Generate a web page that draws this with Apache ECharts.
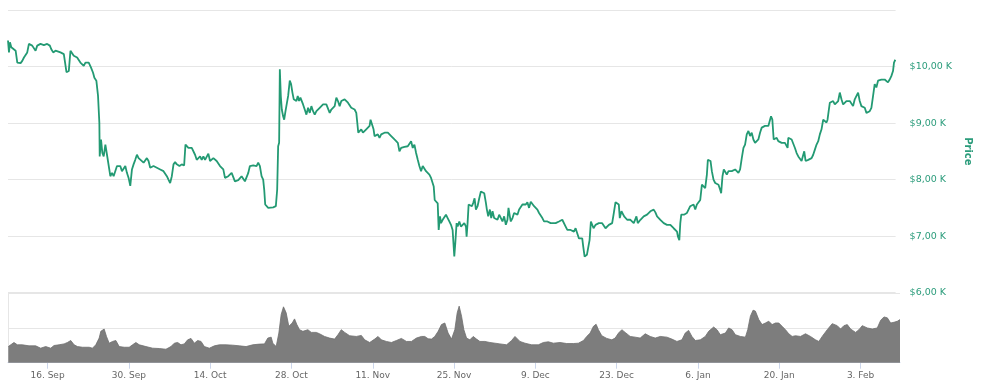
<!DOCTYPE html>
<html>
<head>
<meta charset="utf-8">
<script src="https://cdn.jsdelivr.net/npm/echarts@6/dist/echarts.min.js"></script>
<style>
html,body{margin:0;padding:0;background:#fff;}
#chart{width:981px;height:388px;}
</style>
</head>
<body>
<div id="chart"></div>
<script>
// Start of the series (UTC); all times below are days since this date
const startDate = '2019-09-09';

// x-axis tick labels
const tickDates = ['2019-09-16','2019-09-30','2019-10-14','2019-10-28','2019-11-11','2019-11-25','2019-12-09','2019-12-23','2020-01-06','2020-01-20','2020-02-03'];
const monthNames = ['Jan','Feb','Mar','Apr','May','Jun','Jul','Aug','Sep','Oct','Nov','Dec'];

// price axis ticks (USD)
const priceTicks = [6000, 7000, 8000, 9000, 10000, 11000];

// Price series: [day offset, USD]
const priceSeries = [
[0.19,10460],[0.36,10250],[0.53,10430],[0.76,10340],[1.10,10370],[1.51,10280],[1.80,10070],[2.08,10100],[2.37,10060],[2.66,10100],[2.95,10160],[3.23,10130],[3.52,10250],[3.81,10400],[4.10,10430],[4.38,10370],[4.67,10340],[4.96,10280],[5.25,10370],[5.53,10380],[5.82,10400],[6.11,10370],[6.40,10380],[6.97,10400],[7.43,10370],[7.66,10310],[8.01,10250],[8.41,10280],[8.70,10250],[9.27,10250],[9.85,10220],[10.13,10190],[10.31,9900],[10.71,9920],[10.88,10130],[11.00,10280],[11.28,10250],[11.57,10190],[12.15,10160],[12.72,10070],[13.30,10010],[13.59,10070],[14.16,10070],[14.56,9980],[14.91,9890],[15.14,9800],[15.48,9750],[15.77,9480],[16.00,9000],[16.06,8410],[16.29,8710],[16.52,8470],[16.75,8410],[17.04,8620],[17.32,8440],[17.61,8470],[17.90,8060],[18.19,8120],[18.47,8060],[18.76,8090],[19.05,8240],[19.34,8270],[19.62,8240],[19.91,8150],[20.20,8180],[20.49,8240],[20.77,8120],[21.06,8030],[21.35,7890],[21.64,8180],[21.92,8270],[22.21,8350],[22.50,8440],[22.79,8380],[23.07,8350],[23.65,8300],[24.22,8380],[24.51,8330],[24.80,8210],[25.37,8240],[25.95,8210],
[26.53,8180],[27.10,8150],[27.39,8120],[27.68,8060],[27.96,8000],[28.25,7940],[28.54,8060],[28.83,8270],[29.11,8310],[29.40,8270],[29.86,8240],[30.26,8270],[30.67,8250],[30.90,8620],[31.13,8590],[31.41,8560],[31.70,8590],[31.99,8560],[32.28,8590],[32.56,8440],[32.85,8350],[33.14,8380],[33.43,8410],[33.71,8350],[34.00,8410],[34.29,8350],[34.58,8380],[34.86,8460],[35.15,8330],[35.44,8350],[35.73,8380],[36.01,8350],[36.30,8330],[36.59,8330],[36.88,8240],[37.16,8210],[37.45,8180],[37.74,8030],[38.03,8010],[38.31,8060],[38.60,8090],[38.89,8120],[39.18,8120],[39.46,7970],[39.75,7970],[40.04,7990],[40.33,7970],[40.61,8060],[40.90,8030],[41.19,7970],[41.48,8000],[41.77,8120],[42.05,8240],[42.34,8270],[42.63,8250],[42.92,8270],[43.20,8240],[43.49,8300],[43.78,8240],[44.07,8060],[44.35,8000],[44.53,7820],[44.70,7560],[44.93,7530],[45.22,7500],[45.50,7500],[46.08,7510],[46.54,7530],[46.77,7820],[46.94,8590],[47.11,8650],[47.23,9950],[47.40,9480],[47.57,9240],[47.80,9120],[47.98,9060],[48.21,9210],[48.38,9240],[48.67,9480],[48.95,9750],[49.18,9690],[49.41,9540],[49.64,9420],[49.87,9450],[50.10,9390],[50.33,9480],[50.56,9390],[50.79,9450],[51.02,9420],[51.25,9330],[51.54,9240],[51.83,9150],
[52.12,9270],[52.41,9180],[52.69,9300],[52.98,9210],[53.27,9150],[53.56,9210],[54.13,9270],[54.42,9300],[54.71,9330],[54.99,9360],[55.28,9330],[55.57,9300],[55.86,9180],[56.14,9240],[56.43,9240],[56.72,9300],[57.01,9450],[57.29,9390],[57.58,9300],[57.87,9390],[58.16,9360],[58.44,9420],[58.73,9390],[59.02,9360],[59.31,9330],[59.59,9270],[59.88,9240],[60.17,9240],[60.46,9180],[60.63,9010],[60.80,8830],[61.03,8860],[61.32,8890],[61.61,8830],[61.89,8860],[62.18,8890],[62.47,8860],[62.76,8950],[62.93,9060],[63.22,9080],[63.45,8890],[63.62,8770],[63.91,8770],[64.19,8800],[64.48,8740],[64.77,8800],[65.06,8780],[65.35,8830],[65.63,8820],[65.92,8830],[66.21,8820],[66.50,8770],[66.78,8740],[67.07,8710],[67.36,8680],[67.65,8650],[67.93,8500],[68.22,8560],[68.51,8560],[68.80,8580],[69.08,8560],[69.37,8590],[69.66,8620],[69.95,8680],[70.23,8560],[70.52,8620],[70.81,8470],[71.10,8350],[71.38,8240],[71.67,8150],[71.96,8240],[72.25,8210],[72.53,8150],[72.82,8180],[73.11,8090],[73.40,8030],[73.68,8060],[73.86,7880],[74.03,7640],[74.26,7670],[74.55,7580],[74.72,7110],[74.95,7350],[75.12,7230],[75.41,7290],[75.70,7260],[75.98,7380],[76.27,7320],[76.56,7260],[76.85,7200],[77.13,7110],[77.42,6640],[77.59,6870],[77.82,7230],
[78.00,7170],[78.29,7260],[78.57,7170],[78.86,7200],[79.15,7230],[79.44,7170],[79.55,6990],[79.72,7230],[79.90,7560],[80.13,7590],[80.47,7530],[80.70,7590],[80.93,7670],[81.16,7470],[81.45,7530],[81.74,7670],[82.02,7790],[82.31,7820],[82.60,7760],[82.89,7590],[83.06,7470],[83.29,7350],[83.58,7470],[83.81,7320],[84.04,7440],[84.32,7320],[84.61,7350],[84.90,7290],[85.19,7380],[85.47,7350],[85.76,7260],[86.05,7350],[86.34,7200],[86.62,7290],[86.80,7500],[87.03,7350],[87.20,7260],[87.49,7320],[87.77,7410],[88.06,7440],[88.35,7380],[88.64,7470],[88.92,7440],[89.21,7560],[89.50,7590],[89.79,7560],[90.07,7600],[90.36,7500],[90.65,7610],[90.94,7590],[91.23,7530],[91.51,7560],[91.80,7470],[92.09,7410],[92.38,7380],[92.66,7320],[92.95,7260],[93.24,7290],[93.53,7260],[93.81,7290],[94.10,7230],[94.39,7200],[94.96,7230],[95.54,7260],[96.11,7290],[96.40,7260],[96.69,7170],[96.98,7110],[97.26,7140],[97.55,7110],[97.84,7140],[98.13,7080],[98.41,7140],[98.70,7110],[98.99,6960],[99.28,6930],[99.56,6960],[99.74,6810],[99.97,6640],[100.14,6610],[100.37,6670],[100.60,6700],[100.83,6930],[101.06,7260],[101.29,7290],[101.52,7140],[101.86,7200],[102.15,7170],[102.44,7230],[102.73,7200],[103.01,7230],[103.30,7200],[103.59,7140],
[103.88,7170],[104.17,7200],[104.45,7200],[104.74,7230],[105.03,7410],[105.32,7600],[105.60,7590],[105.89,7560],[106.06,7320],[106.35,7440],[106.58,7470],[106.81,7350],[107.04,7320],[107.33,7290],[107.62,7260],[107.90,7290],[108.19,7260],[108.48,7230],[108.77,7260],[108.94,7350],[109.17,7230],[109.34,7260],[109.63,7290],[109.92,7320],[110.20,7350],[110.49,7380],[110.78,7380],[111.07,7410],[111.35,7440],[111.64,7470],[111.93,7470],[112.22,7420],[112.51,7350],[112.79,7320],[113.08,7290],[113.37,7260],[113.66,7230],[113.94,7230],[114.23,7200],[114.52,7230],[114.81,7200],[115.09,7170],[115.38,7140],[115.67,7110],[115.96,7080],[116.13,6990],[116.36,6930],[116.53,7230],[116.70,7380],[116.93,7350],[117.16,7380],[117.39,7350],[117.68,7410],[117.97,7440],[118.25,7530],[118.54,7500],[118.83,7560],[119.12,7470],[119.40,7560],[119.69,7590],[119.98,7640],[120.27,7910],[120.55,7940],[120.84,7850],[121.13,8090],[121.30,8350],[121.53,8380],[121.76,8330],[121.99,8150],[122.28,8000],[122.57,7940],[122.85,7970],[123.14,7910],[123.43,7820],[123.60,7760],[123.83,8060],[124.06,8180],[124.29,8210],[124.58,8090],[124.87,8150],[125.16,8120],[125.44,8150],[125.73,8180],[126.02,8180],[126.31,8150],[126.59,8120],[126.88,8180],[127.17,8380],[127.46,8560],[127.74,8620],[128.03,8800],[128.32,8860],[128.61,8770],[128.89,8830],[129.18,8710],[129.47,8650],
[129.76,8680],[130.04,8710],[130.33,8830],[130.62,8920],[130.91,8890],[131.19,8950],[131.48,8920],[131.77,8950],[132.06,8980],[132.23,9120],[132.46,9060],[132.69,8710],[132.92,8680],[133.21,8740],[133.49,8680],[133.78,8680],[134.07,8650],[134.36,8680],[134.64,8650],[134.93,8680],[135.10,8560],[135.22,8740],[135.51,8740],[135.80,8710],[136.08,8680],[136.37,8560],[136.66,8470],[136.95,8410],[137.23,8380],[137.52,8330],[137.81,8440],[137.98,8500],[138.21,8330],[138.38,8350],[138.67,8350],[138.96,8380],[139.25,8380],[139.53,8440],[139.82,8530],[140.11,8620],[140.40,8680],[140.68,8800],[140.97,8890],[141.26,9060],[141.55,9090],[141.83,9010],[142.01,9060],[142.24,9240],[142.41,9360],[142.70,9330],[142.98,9390],[143.27,9330],[143.56,9360],[143.85,9390],[144.13,9540],[144.42,9420],[144.71,9330],[145.00,9300],[145.28,9390],[145.57,9420],[145.86,9390],[146.15,9360],[146.43,9300],[146.72,9420],[147.01,9450],[147.30,9540],[147.58,9390],[147.87,9300],[148.16,9270],[148.45,9270],[148.74,9180],[149.02,9150],[149.31,9210],[149.60,9270],[149.89,9480],[150.17,9690],[150.46,9630],[150.75,9750],[151.04,9770],[151.32,9770],[151.61,9800],[151.90,9770],[152.19,9800],[152.47,9720],[152.76,9770],[153.05,9830],[153.34,9920],[153.51,10070],[153.74,10120]
];

// Volume series: [day offset, billion USD]
const volumeSeries = [
[0.24,13.9],[1.22,17.4],[1.80,15.4],[2.66,15.4],[3.81,14.5],[4.96,14.5],[5.82,12.5],[6.68,13.9],[7.55,12.5],[8.12,14.8],[8.98,15.4],[9.85,16.2],[10.42,17.4],[11.00,19.1],[11.57,15.4],[12.15,13.9],[13.01,13.3],[14.16,13.3],[14.73,12.5],[15.31,15.4],[15.89,21.2],[16.17,27.0],[16.75,29.0],[17.15,22.6],[17.61,16.8],[18.19,18.3],[18.76,19.1],[19.34,13.9],[20.20,13.3],[21.06,13.3],[21.64,15.4],[22.21,17.4],[22.79,15.4],[23.94,13.9],[25.09,12.5],[26.24,12.2],[27.39,11.6],[28.25,13.9],[28.83,16.8],[29.40,17.4],[29.98,15.4],[30.55,16.2],[31.13,19.7],[31.70,20.9],[32.28,16.8],[32.85,19.1],[33.43,18.3],[34.00,13.9],[34.86,12.5],[35.73,14.5],[36.59,15.4],[37.74,15.4],[38.89,15.1],[40.04,14.5],[41.19,13.9],[42.34,15.4],[43.49,16.0],[44.35,16.2],[44.93,21.2],[45.51,22.0],[45.79,16.8],[46.37,13.9],[46.83,25.5],[47.23,41.5],[47.63,48.1],[48.09,42.9],[48.55,31.3],[49.13,34.2],[49.53,37.7],[49.93,32.8],[50.39,28.4],[50.97,27.0],[51.83,28.4],[52.41,26.1],[53.27,26.1],[53.84,24.9],[54.70,22.6],[55.57,21.2],
[56.43,20.3],[57.01,24.1],[57.58,28.4],[58.16,26.1],[59.02,23.2],[60.17,22.6],[61.03,23.5],[61.61,19.7],[62.47,17.4],[63.33,20.3],[63.91,22.6],[64.48,19.7],[65.35,18.3],[66.21,17.4],[67.07,19.1],[67.93,20.9],[68.80,18.3],[69.66,18.3],[70.52,21.2],[71.38,22.6],[71.96,22.6],[72.53,20.6],[73.11,20.3],[73.68,22.6],[74.26,27.0],[74.83,32.8],[75.41,34.2],[75.98,25.5],[76.56,20.3],[77.13,28.4],[77.54,42.9],[77.88,48.7],[78.29,40.0],[78.69,28.4],[79.15,21.2],[79.72,19.7],[80.30,22.6],[80.87,20.3],[81.45,18.3],[82.31,18.3],[83.17,17.4],[84.04,16.8],[84.90,16.2],[86.05,15.4],[86.91,19.1],[87.49,22.6],[88.35,18.3],[89.21,16.8],[90.36,15.4],[91.51,15.4],[92.38,17.4],[93.24,18.0],[94.10,16.8],[95.25,17.4],[96.40,16.5],[97.55,16.5],[98.41,16.8],[99.28,19.1],[99.85,22.6],[100.43,25.5],[101.00,31.3],[101.46,33.1],[101.86,28.4],[102.44,23.2],[103.30,20.9],[104.17,19.7],[104.74,21.2],[105.32,25.5],[105.89,28.4],[106.46,26.1],[107.33,22.6],[108.19,22.0],[109.05,21.2],[109.92,24.9],[110.78,22.6],
[111.64,21.2],[112.50,22.6],[113.65,22.0],[114.51,20.3],[115.38,18.3],[116.24,19.7],[116.81,25.5],[117.39,27.8],[117.96,22.6],[118.54,19.1],[119.40,19.7],[120.26,22.6],[120.84,27.0],[121.70,30.7],[122.28,28.4],[122.85,24.1],[123.72,25.5],[124.29,29.9],[124.87,28.4],[125.44,24.1],[126.30,22.6],[127.17,22.0],[127.57,28.4],[128.03,40.0],[128.49,45.2],[128.89,44.4],[129.47,37.1],[130.04,32.8],[130.62,34.2],[131.19,35.7],[131.77,32.8],[132.34,34.2],[132.92,34.2],[133.49,31.3],[134.07,28.4],[134.64,24.9],[135.22,22.6],[135.79,23.2],[136.65,22.6],[137.52,24.9],[138.38,22.6],[139.24,19.7],[139.82,18.3],[140.39,22.6],[141.26,28.4],[142.12,33.6],[142.98,31.9],[143.56,29.0],[144.13,31.9],[144.71,32.8],[145.28,29.0],[146.14,26.1],[146.72,28.4],[147.29,31.9],[148.16,29.9],[149.02,29.0],[149.88,29.9],[150.46,36.5],[151.03,39.4],[151.61,38.6],[152.18,34.2],[152.76,34.8],[153.33,35.7],[153.79,37.1]
];

// volume axis
const volumeMax = 60;
const volumeInterval = 30;

const DAY = 86400000;
const base = Date.parse(startDate + 'T00:00:00Z');
const allDays = priceSeries.map(p => p[0]).concat(volumeSeries.map(p => p[0]));
const dMin = Math.min.apply(null, allDays);
const dMax = Math.max.apply(null, allDays);
const tickDays = tickDates.map(s => (Date.parse(s + 'T00:00:00Z') - base) / DAY);
const dayLabel = function (d) {
  const dt = new Date(base + d * DAY);
  return dt.getUTCDate() + '. ' + monthNames[dt.getUTCMonth()];
};

const green = '#239a73';
const labelGreen = '#2b9c7b';
const gridColor = '#e6e6e6';
const axisColor = '#ccd6eb';

const chart = echarts.init(document.getElementById('chart'), null, {renderer: 'canvas'});
chart.setOption({
  animation: false,
  backgroundColor: '#ffffff',
  grid: [
    {left: 8, right: 81, top: 10, bottom: 95.3},
    {left: 8, right: 81, top: 293, bottom: 25.3}
  ],
  xAxis: [
    {
      type: 'value', gridIndex: 0, min: dMin, max: dMax,
      axisLine: {show: false}, axisTick: {show: false}, axisLabel: {show: false}, splitLine: {show: false}
    },
    {
      type: 'value', gridIndex: 1, min: dMin, max: dMax,
      axisLine: {show: true, onZero: false, lineStyle: {color: axisColor, width: 1}},
      axisTick: {show: true, length: 6, lineStyle: {color: axisColor}, customValues: tickDays},
      axisLabel: {
        show: true, customValues: tickDays, margin: 8,
        color: '#666666', fontFamily: 'DejaVu Sans', fontSize: 9,
        formatter: dayLabel
      },
      splitLine: {show: false}
    }
  ],
  yAxis: [
    {
      type: 'value', gridIndex: 0, position: 'right',
      min: priceTicks[0], max: priceTicks[priceTicks.length - 1], interval: 1000,
      axisLine: {show: false}, axisTick: {show: false},
      splitLine: {show: true, lineStyle: {color: gridColor, width: 1}},
      axisLabel: {
        show: true, margin: 14, color: labelGreen, fontFamily: 'DejaVu Sans', fontSize: 9.5,
        formatter: function (v) { return v === priceTicks[priceTicks.length - 1] ? '' : '$' + (v / 1000) + ',00 K'; }
      },
      name: 'Price', nameLocation: 'middle', nameRotate: -90, nameGap: 62,
      nameTextStyle: {color: labelGreen, fontFamily: 'DejaVu Sans', fontSize: 10, fontWeight: 'bold'}
    },
    {
      type: 'value', gridIndex: 1, position: 'left',
      min: 0, max: volumeMax, interval: volumeInterval,
      axisLine: {show: true, onZero: false, lineStyle: {color: gridColor, width: 1}},
      axisTick: {show: false}, axisLabel: {show: false},
      splitLine: {show: true, lineStyle: {color: gridColor, width: 1}}
    }
  ],
  series: [
    {
      type: 'line', name: 'Volume', xAxisIndex: 1, yAxisIndex: 1,
      data: volumeSeries, showSymbol: false, symbol: 'none',
      lineStyle: {color: '#6f6f6f', width: 0.8},
      areaStyle: {color: '#7d7d7d', opacity: 1}
    },
    {
      type: 'line', name: 'Price', xAxisIndex: 0, yAxisIndex: 0,
      data: priceSeries, showSymbol: false, symbol: 'none',
      lineStyle: {color: green, width: 1.8}
    }
  ]
});
</script>
</body>
</html>
